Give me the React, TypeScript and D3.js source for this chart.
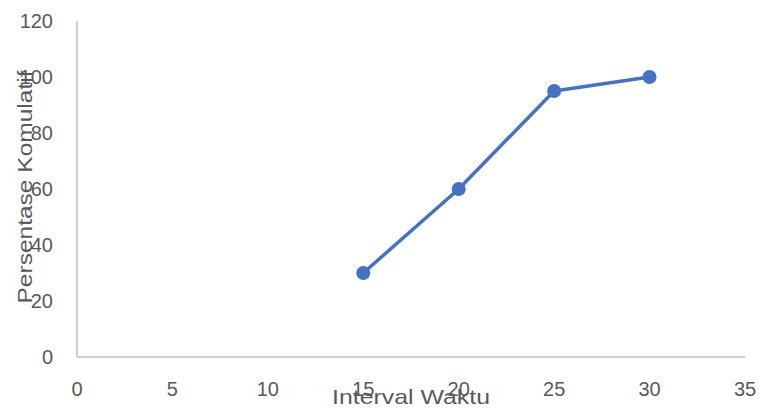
import React from "react";
import * as d3 from "d3";

const xValues = [15, 20, 25, 30];
const yValues = [30, 60, 95, 100];
const xTicks = [0, 5, 10, 15, 20, 25, 30, 35];
const yTicks = [0, 20, 40, 60, 80, 100, 120];
const xTitle = "Interval Waktu";
const yTitle = "Persentase Komulatif";

export default function App() {
  const W = 759, H = 408;
  const x = d3.scaleLinear().domain([0, 35]).range([77, 745]);
  const y = d3.scaleLinear().domain([0, 120]).range([357, 21]);
  const pts = xValues.map((v, i) => [v, yValues[i]] as [number, number]);
  const line = d3.line<[number, number]>().x(d => x(d[0])).y(d => y(d[1]))(pts) || "";
  const font = "'Liberation Sans', Arial, sans-serif";
  return (
    <svg width={W} height={H} style={{ position: "absolute", left: 0, top: 0, background: "#fff" }}>
      <line x1={x(0)} x2={x(0)} y1={y(120)} y2={y(0)} stroke="#BFBFBF" strokeWidth={1.5} />
      <line x1={x(0)} x2={x(35)} y1={y(0)} y2={y(0)} stroke="#BFBFBF" strokeWidth={1.5} />
      {yTicks.map(t => (
        <text key={"y" + t} x={53} y={y(t)} dy="0.36em" textAnchor="end" fontFamily={font} fontSize={20} fill="#595959">{t}</text>
      ))}
      {xTicks.map(t => (
        <text key={"x" + t} x={x(t)} y={396} textAnchor="middle" fontFamily={font} fontSize={20} fill="#595959">{t}</text>
      ))}
      <path d={line} fill="none" stroke="#4472C4" strokeWidth={3.5} strokeLinejoin="round" />
      {pts.map((p, i) => (
        <circle key={i} cx={x(p[0])} cy={y(p[1])} r={7} fill="#4472C4" />
      ))}
      <text x={411} y={404} textAnchor="middle" fontFamily={font} fontSize={21} fill="#595959" textLength={158} lengthAdjust="spacingAndGlyphs">{xTitle}</text>
      <text transform={`translate(32,187) rotate(-90)`} textAnchor="middle" fontFamily={font} fontSize={21} fill="#595959" textLength={233} lengthAdjust="spacingAndGlyphs">{yTitle}</text>
    </svg>
  );
}
